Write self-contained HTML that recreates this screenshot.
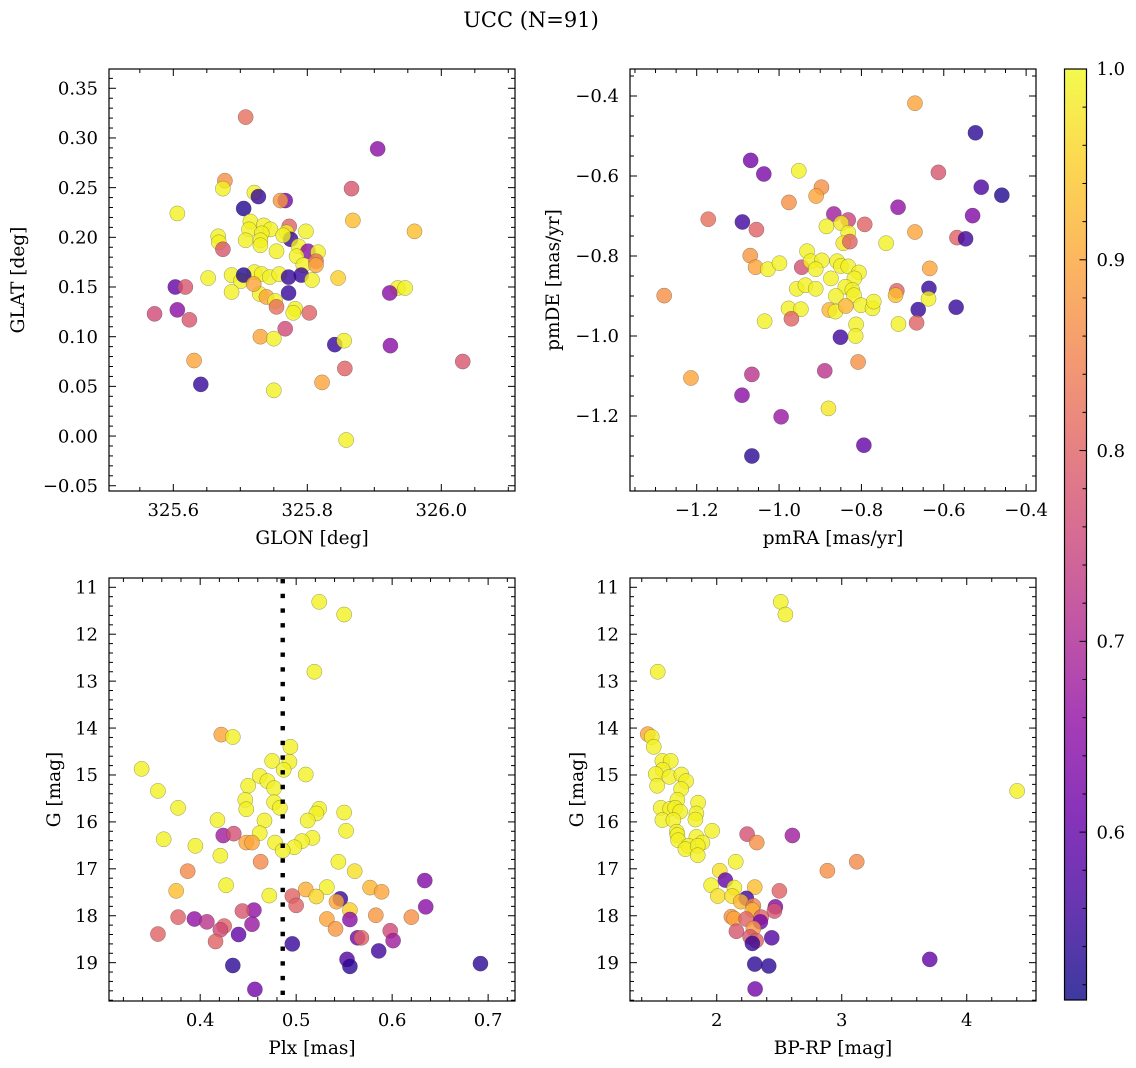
<!DOCTYPE html>
<html><head><meta charset="utf-8"><title>UCC (N=91)</title>
<style>
html,body{margin:0;padding:0;background:#fff;}
svg{display:block;font-family:"DejaVu Serif","Liberation Serif",serif;}
</style></head>
<body>
<svg id="fig" width="1136" height="1068" viewBox="0 0 1136 1068" xmlns="http://www.w3.org/2000/svg">
<defs>
<linearGradient id="plasmaGrad" x1="0" y1="1" x2="0" y2="0"></linearGradient>
</defs>
<text x="531" y="27" text-anchor="middle" font-size="21">UCC (N=91)</text>
</svg>
<script>
// ---------- Panel 1: GLON vs GLAT ----------
const p1Glon=[325.708,325.905,325.677,325.674,325.866,325.721,325.727,325.767,325.760,325.606,325.868,325.705,325.715,325.735,325.773,325.713,325.745,325.732,325.798,325.769,325.667,325.668,325.960,325.708,325.730,325.775,325.764,325.674,325.787,325.801,325.816,325.730,325.754,325.784,325.794,325.813,325.813,325.721,325.687,325.701,325.732,325.705,325.744,325.758,325.772,325.652,325.791,325.807,325.846,325.603,325.618,325.687,325.729,325.720,325.772,325.739,325.752,325.754,325.782,325.803,325.779,325.572,325.606,325.624,325.767,325.730,325.750,325.841,325.855,325.924,325.935,325.946,325.923,325.631,325.856,326.032,325.822,325.641,325.750,325.858];
const p1Glat=[0.321,0.289,0.257,0.249,0.249,0.245,0.241,0.237,0.237,0.224,0.217,0.229,0.216,0.212,0.211,0.208,0.208,0.204,0.206,0.205,0.201,0.195,0.206,0.197,0.197,0.198,0.202,0.188,0.191,0.186,0.185,0.192,0.186,0.181,0.172,0.176,0.172,0.165,0.162,0.156,0.163,0.162,0.160,0.163,0.160,0.159,0.162,0.157,0.159,0.150,0.150,0.145,0.143,0.153,0.144,0.140,0.136,0.130,0.128,0.124,0.124,0.123,0.127,0.117,0.108,0.100,0.098,0.092,0.096,0.091,0.149,0.149,0.144,0.076,0.068,0.075,0.054,0.052,0.046,-0.004];
const p1Prob=[0.82,0.65,0.87,0.99,0.78,0.99,0.55,0.62,0.88,0.99,0.93,0.53,0.99,0.99,0.80,0.99,0.99,0.99,0.99,0.99,0.99,0.99,0.93,0.99,0.99,0.55,0.99,0.78,0.99,0.65,0.99,0.99,0.99,0.99,0.99,0.82,0.90,0.99,0.99,0.99,0.99,0.53,0.99,0.99,0.55,0.99,0.55,0.99,0.95,0.60,0.78,0.99,0.99,0.90,0.55,0.90,0.99,0.82,0.99,0.80,0.99,0.76,0.65,0.78,0.76,0.90,0.99,0.55,0.99,0.65,0.99,0.99,0.65,0.90,0.80,0.78,0.90,0.55,0.99,0.99];
const p1XTicks=[325.6,325.8,326.0];
const p1XTickLabels=["325.6","325.8","326.0"];
const p1YTicks=[-0.05,0,0.05,0.10,0.15,0.20,0.25,0.30,0.35];
const p1YTickLabels=["\u22120.05","0.00","0.05","0.10","0.15","0.20","0.25","0.30","0.35"];

// ---------- Panel 2: pmRA vs pmDE ----------
const p2PmRA=[-0.670,-0.523,-1.069,-1.037,-0.952,-0.613,-0.509,-0.459,-0.897,-0.910,-0.976,-0.711,-0.530,-1.172,-1.089,-0.867,-0.832,-0.792,-1.055,-0.885,-0.849,-0.832,-0.844,-0.828,-0.670,-0.740,-0.568,-0.547,-1.070,-0.932,-1.057,-1.027,-0.999,-0.945,-0.923,-0.896,-0.911,-0.859,-0.850,-0.832,-0.806,-0.634,-0.874,-0.817,-0.957,-0.936,-0.911,-0.839,-0.822,-0.636,-1.279,-0.862,-0.818,-0.714,-0.717,-0.637,-0.977,-0.947,-0.878,-0.863,-0.838,-0.801,-0.773,-0.770,-0.662,-0.570,-0.970,-1.035,-0.813,-0.710,-0.666,-0.814,-0.851,-0.808,-1.214,-1.066,-0.889,-1.090,-0.880,-0.995,-0.794,-1.066];
const p2PmDE=[-0.418,-0.492,-0.561,-0.595,-0.587,-0.591,-0.628,-0.648,-0.628,-0.650,-0.666,-0.678,-0.699,-0.708,-0.715,-0.695,-0.710,-0.721,-0.734,-0.726,-0.718,-0.742,-0.768,-0.764,-0.740,-0.768,-0.754,-0.757,-0.799,-0.788,-0.828,-0.833,-0.818,-0.828,-0.813,-0.811,-0.833,-0.813,-0.825,-0.826,-0.841,-0.831,-0.856,-0.856,-0.882,-0.873,-0.882,-0.877,-0.885,-0.881,-0.899,-0.900,-0.898,-0.887,-0.898,-0.907,-0.931,-0.933,-0.935,-0.939,-0.925,-0.923,-0.931,-0.914,-0.934,-0.928,-0.957,-0.963,-0.971,-0.970,-0.967,-1.000,-1.003,-1.065,-1.105,-1.096,-1.087,-1.148,-1.181,-1.202,-1.273,-1.300];
const p2Prob=[0.90,0.54,0.62,0.63,0.99,0.78,0.57,0.53,0.87,0.90,0.87,0.66,0.64,0.82,0.56,0.68,0.75,0.80,0.80,0.99,0.98,0.99,0.98,0.80,0.90,0.99,0.80,0.56,0.88,0.99,0.90,0.99,0.99,0.77,0.99,0.99,0.99,0.99,0.99,0.99,0.99,0.90,0.99,0.99,0.99,0.99,0.99,0.99,0.99,0.55,0.87,0.99,0.99,0.80,0.93,0.99,0.99,0.99,0.92,0.99,0.92,0.99,0.99,0.99,0.55,0.55,0.80,0.99,0.99,0.99,0.80,0.99,0.56,0.87,0.90,0.72,0.72,0.65,0.98,0.67,0.60,0.54];
const p2XTicks=[-1.2,-1.0,-0.8,-0.6,-0.4];
const p2XTickLabels=["\u22121.2","\u22121.0","\u22120.8","\u22120.6","\u22120.4"];
const p2YTicks=[-1.2,-1.0,-0.8,-0.6,-0.4];
const p2YTickLabels=["\u22121.2","\u22121.0","\u22120.8","\u22120.6","\u22120.4"];

// ---------- Panel 3: Plx vs G ----------
const p3Plx=[0.524,0.550,0.519,0.422,0.434,0.494,0.475,0.493,0.487,0.339,0.510,0.462,0.470,0.450,0.477,0.356,0.447,0.477,0.483,0.448,0.377,0.524,0.521,0.550,0.418,0.467,0.512,0.552,0.424,0.435,0.462,0.362,0.517,0.506,0.448,0.454,0.478,0.498,0.395,0.486,0.421,0.463,0.544,0.561,0.387,0.634,0.427,0.532,0.510,0.577,0.589,0.375,0.472,0.496,0.521,0.546,0.542,0.500,0.635,0.556,0.456,0.444,0.583,0.377,0.394,0.407,0.620,0.532,0.556,0.454,0.425,0.421,0.541,0.356,0.440,0.598,0.564,0.568,0.601,0.416,0.496,0.586,0.553,0.556,0.434,0.692,0.457];
const p3G=[11.31,11.58,12.80,14.14,14.19,14.40,14.70,14.72,14.89,14.87,14.99,15.02,15.13,15.23,15.28,15.34,15.53,15.58,15.70,15.73,15.70,15.72,15.82,15.80,15.96,15.97,15.97,16.19,16.29,16.25,16.24,16.37,16.34,16.41,16.44,16.44,16.44,16.54,16.51,16.61,16.72,16.85,16.85,17.05,17.05,17.25,17.35,17.39,17.44,17.40,17.49,17.47,17.57,17.58,17.59,17.64,17.70,17.78,17.81,17.88,17.88,17.90,17.99,18.03,18.07,18.13,18.03,18.07,18.08,18.18,18.22,18.30,18.28,18.39,18.40,18.32,18.47,18.47,18.53,18.55,18.60,18.75,18.93,19.08,19.06,19.02,19.57];
const p3Prob=[0.99,0.99,0.99,0.90,0.99,0.99,0.99,0.99,0.99,0.99,0.99,0.99,0.99,0.99,0.99,0.99,0.99,0.99,0.99,0.99,0.99,0.99,0.99,0.99,0.99,0.99,0.99,0.99,0.68,0.77,0.99,0.99,0.99,0.99,0.90,0.90,0.99,0.99,0.99,0.99,0.99,0.86,0.99,0.97,0.86,0.64,0.99,0.99,0.91,0.92,0.90,0.93,0.99,0.80,0.96,0.55,0.90,0.80,0.65,0.95,0.66,0.78,0.88,0.80,0.66,0.72,0.87,0.90,0.65,0.67,0.80,0.76,0.88,0.80,0.60,0.76,0.62,0.80,0.68,0.80,0.55,0.56,0.58,0.54,0.54,0.54,0.62];
const p3MeanPlx=[0.486];
const p3XTicks=[0.4,0.5,0.6,0.7];
const p3XTickLabels=["0.4","0.5","0.6","0.7"];
const gTicks=[11,12,13,14,15,16,17,18,19];
const gTickLabels=["11","12","13","14","15","16","17","18","19"];

// ---------- Panel 4: BP-RP vs G ----------
const p4BpRp=[2.512,2.549,1.528,1.448,1.480,1.496,1.565,1.632,1.568,1.512,1.621,1.717,1.755,1.523,1.715,1.685,1.851,1.552,1.627,1.667,1.707,1.837,1.565,1.653,1.829,1.963,1.680,1.685,1.837,1.885,1.691,1.773,1.749,1.848,1.848,2.243,2.320,2.605,2.152,3.120,2.885,2.024,2.069,1.955,2.008,2.141,2.304,2.123,2.501,2.237,2.192,2.293,2.469,2.461,2.285,2.117,2.139,2.235,2.355,2.349,2.293,2.157,2.267,2.315,2.285,2.440,3.704,2.304,2.416,2.307,4.403];
const p4G=[11.31,11.58,12.80,14.13,14.19,14.40,14.70,14.70,14.89,14.98,15.04,14.99,15.13,15.23,15.30,15.53,15.59,15.70,15.72,15.70,15.78,15.82,15.96,15.96,15.95,16.19,16.21,16.28,16.32,16.44,16.39,16.51,16.58,16.51,16.71,16.26,16.44,16.29,16.85,16.85,17.04,17.04,17.24,17.35,17.58,17.40,17.39,17.58,17.47,17.63,17.70,17.79,17.81,17.90,17.88,18.02,18.06,18.07,18.03,18.13,18.27,18.33,18.45,18.53,18.59,18.47,18.93,19.03,19.07,19.56,15.34];
const p4Prob=[0.99,0.99,0.99,0.90,0.99,0.99,0.99,0.99,0.99,0.99,0.99,0.99,0.99,0.99,0.99,0.99,0.99,0.99,0.99,0.99,0.99,0.99,0.99,0.99,0.99,0.99,0.99,0.99,0.99,0.99,0.99,0.99,0.99,0.99,0.99,0.77,0.87,0.68,0.99,0.86,0.87,0.97,0.60,0.99,0.97,0.99,0.93,0.97,0.80,0.56,0.92,0.85,0.64,0.78,0.92,0.87,0.90,0.80,0.80,0.62,0.88,0.78,0.78,0.80,0.55,0.58,0.60,0.54,0.54,0.62,0.99];
const p4XTicks=[2,3,4];
const p4XTickLabels=["2","3","4"];

// ---------- Colorbar ----------
const cbTicks=[0.6,0.7,0.8,0.9,1.0];
const cbTickLabels=["0.6","0.7","0.8","0.9","1.0"];
const cbMin=0.512, cbMax=1.0;

const NS="http://www.w3.org/2000/svg";
const svg=document.getElementById('fig');
const plasma=["#0d0887","#41049d","#6a00a8","#8f0da4","#b12a90","#cc4778","#e16462","#f2844b","#fca636","#fcce25","#f0f921"];
function hex(h){return [parseInt(h.substr(1,2),16),parseInt(h.substr(3,2),16),parseInt(h.substr(5,2),16)];}
function cmap(v){
  let t=(v-cbMin)/(cbMax-cbMin); t=Math.max(0,Math.min(1,t));
  const f=t*10, i=Math.min(9,Math.floor(f)), r=f-i;
  const a=hex(plasma[i]), b=hex(plasma[i+1]);
  return "rgb("+a.map((c,k)=>Math.round(c+(b[k]-c)*r)).join(",")+")";
}
function mk(tag,attrs,parent){const e=document.createElementNS(NS,tag);for(const k in attrs)e.setAttribute(k,attrs[k]);(parent||svg).appendChild(e);return e;}
function scale(d0,d1,r0,r1){return v=>r0+(v-d0)/(d1-d0)*(r1-r0);}

function panel(cfg){
  const g=mk('g',{});
  
  
  const sx=scale(cfg.xd[0],cfg.xd[1],cfg.x0,cfg.x1);
  const sy=scale(cfg.yd[0],cfg.yd[1],cfg.y1,cfg.y0);
  const pts=mk('g',{},g);
  
  
  for(let i=0;i<cfg.xs.length;i++){
    const c=mk('circle',{cx:sx(cfg.xs[i]).toFixed(2),cy:sy(cfg.ys[i]).toFixed(2),r:7.6,fill:cmap(cfg.cs[i]),'fill-opacity':0.8,stroke:'#333','stroke-opacity':0.55,'stroke-width':0.45},pts);
    
    
  }
  if(cfg.extra) cfg.extra(g,sx,sy);
  const tg=mk('g',{stroke:'#000','stroke-width':1},g);
  
  
  const lo=Math.min(cfg.xd[0],cfg.xd[1]), hi=Math.max(cfg.xd[0],cfg.xd[1]);
  for(let v=Math.ceil(lo/cfg.xminor-1e-9)*cfg.xminor; v<=hi+1e-9; v+=cfg.xminor){
    const x=sx(v); const maj=cfg.xt.some(t=>Math.abs(t-v)<1e-6); const L=maj?7:4;
    mk('line',{x1:x,x2:x,y1:cfg.y1,y2:cfg.y1-L},tg); mk('line',{x1:x,x2:x,y1:cfg.y0,y2:cfg.y0+L},tg);
  }
  const ylo=Math.min(cfg.yd[0],cfg.yd[1]), yhi=Math.max(cfg.yd[0],cfg.yd[1]);
  for(let v=Math.ceil(ylo/cfg.yminor-1e-9)*cfg.yminor; v<=yhi+1e-9; v+=cfg.yminor){
    const y=sy(v); const maj=cfg.yt.some(t=>Math.abs(t-v)<1e-6); const L=maj?7:4;
    mk('line',{y1:y,y2:y,x1:cfg.x0,x2:cfg.x0+L},tg); mk('line',{y1:y,y2:y,x1:cfg.x1,x2:cfg.x1-L},tg);
  }
  const fr=mk('rect',{x:cfg.x0,y:cfg.y0,width:cfg.x1-cfg.x0,height:cfg.y1-cfg.y0,fill:'none',stroke:'#000','stroke-width':1.2},g);
  
  
  cfg.xt.forEach((t,i)=>{
    const e=mk('text',{x:sx(t),y:cfg.y1+25,'text-anchor':'middle','font-size':18},g);
    e.textContent=cfg.xl[i];
    
    
  });
  cfg.yt.forEach((t,i)=>{
    const e=mk('text',{x:cfg.x0-11,y:sy(t)+6.2,'text-anchor':'end','font-size':18},g);
    e.textContent=cfg.yl[i];
    
    
  });
  const xt=mk('text',{x:(cfg.x0+cfg.x1)/2,y:cfg.y1+53,'text-anchor':'middle','font-size':18.5},g);
  xt.textContent=cfg.xtitle;
  
  
  const cy=(cfg.y0+cfg.y1)/2;
  const yt=mk('text',{x:cfg.ytx,y:cy,'text-anchor':'middle','font-size':18.5,transform:'rotate(-90 '+cfg.ytx+' '+cy+')'},g);
  yt.textContent=cfg.ytitle;
  
  
}

panel({name:'glon-glat-panel',x0:109,x1:515,y0:69,y1:491,xd:[325.504,326.110],yd:[-0.0553,0.3694],xs:p1Glon,ys:p1Glat,cs:p1Prob,xt:p1XTicks,xl:p1XTickLabels,yt:p1YTicks,yl:p1YTickLabels,xminor:0.05,yminor:0.01,xtitle:'GLON [deg]',ytitle:'GLAT [deg]',ytx:24});
panel({name:'pm-panel',x0:630,x1:1036,y0:69,y1:491,xd:[-1.362,-0.376],yd:[-1.3875,-0.3325],xs:p2PmRA,ys:p2PmDE,cs:p2Prob,xt:p2XTicks,xl:p2XTickLabels,yt:p2YTicks,yl:p2YTickLabels,xminor:0.05,yminor:0.05,xtitle:'pmRA [mas/yr]',ytitle:'pmDE [mas/yr]',ytx:559});
panel({name:'plx-g-panel',x0:109,x1:515,y0:578,y1:1001,xd:[0.305,0.728],yd:[19.817,10.802],xs:p3Plx,ys:p3G,cs:p3Prob,xt:p3XTicks,xl:p3XTickLabels,yt:gTicks,yl:gTickLabels,xminor:0.02,yminor:0.2,xtitle:'Plx [mas]',ytitle:'G [mag]',ytx:60,
  extra:(g,sx,sy)=>{
    const x=sx(p3MeanPlx[0]);
    const l=mk('line',{x1:x,x2:x,y1:579,y2:1000,stroke:'#000','stroke-width':4.4,'stroke-dasharray':'4.4 10.3'},g);
    
    
  }});
panel({name:'cmd-panel',x0:630,x1:1036,y0:578,y1:1001,xd:[1.306,4.554],yd:[19.817,10.802],xs:p4BpRp,ys:p4G,cs:p4Prob,xt:p4XTicks,xl:p4XTickLabels,yt:gTicks,yl:gTickLabels,xminor:0.2,yminor:0.2,xtitle:'BP-RP [mag]',ytitle:'G [mag]',ytx:583});

(function(){
  const grad=document.getElementById('plasmaGrad');
  for(let k=0;k<=20;k++){
    const v=cbMin+(cbMax-cbMin)*k/20;
    mk('stop',{offset:(k/20),'stop-color':cmap(v)},grad);
  }
  const g=mk('g',{});
  
  
  const x0=1064.5,x1=1086.5,y0=69,y1=1000;
  const sy=scale(cbMin,cbMax,y1,y0);
  mk('rect',{x:x0,y:y0,width:x1-x0,height:y1-y0,fill:'url(#plasmaGrad)','fill-opacity':0.8},g);
  for(let v=0.52; v<=1.0001; v+=0.02){
    const y=sy(v); const maj=cbTicks.some(t=>Math.abs(t-v)<1e-6);
    mk('line',{x1:x1,x2:x1-(maj?7:4),y1:y,y2:y,stroke:'#000','stroke-width':1},g);
  }
  mk('rect',{x:x0,y:y0,width:x1-x0,height:y1-y0,fill:'none',stroke:'#000','stroke-width':1.2},g);
  cbTicks.forEach((t,i)=>{
    const e=mk('text',{x:x1+10,y:sy(t)+6.2,'font-size':18},g);
    e.textContent=cbTickLabels[i];
    
    
  });
})();
</script>
</body></html>
